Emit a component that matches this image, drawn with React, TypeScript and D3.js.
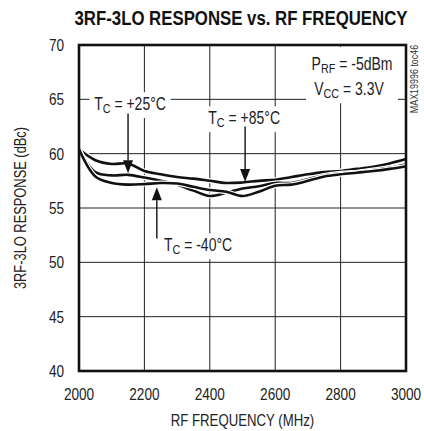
import React, { useEffect, useRef } from "react";
import * as d3 from "d3";

const freqs = [2000, 2050, 2100, 2150, 2200, 2250, 2300, 2350, 2400, 2450, 2500, 2550, 2600, 2650, 2700, 2750, 2800, 2850, 2900, 2950, 3000];
const tc85 = [60.4, 59.4, 59.05, 59.1, 58.4, 58.1, 57.85, 57.7, 57.5, 57.3, 57.35, 57.5, 57.6, 57.85, 58.1, 58.3, 58.4, 58.6, 58.8, 59.1, 59.5];
const tc25 = [60.4, 58.3, 58.0, 58.05, 57.8, 57.5, 57.15, 56.6, 56.1, 56.4, 56.8, 57.0, 57.3, 57.3, 57.65, 58.0, 58.2, 58.3, 58.5, 58.7, 59.0];
const tcm40 = [60.4, 57.9, 57.3, 57.15, 57.2, 57.3, 57.25, 56.95, 56.65, 56.5, 56.1, 56.5, 57.05, 57.15, 57.5, 57.9, 58.1, 58.25, 58.4, 58.6, 58.85];
const seriesList = [tc85, tc25, tcm40];

const xTicks = [2000, 2200, 2400, 2600, 2800, 3000];
const yTicks = [40, 45, 50, 55, 60, 65, 70];

const title = "3RF-3LO RESPONSE vs. RF FREQUENCY";
const xTitle = "RF FREQUENCY (MHz)";
const yTitle = "3RF-3LO RESPONSE (dBc)";
const sideNote = "MAX19996 toc46";

// annotation labels: text after "T_C = ", arrow frequency, arrow tip value, arrow tail value, label centre freq / value
const annoText = ["+25°C", "+85°C", "-40°C"];
const annoArrowFreq = [2150, 2508, 2238];
const annoTip = [58.2, 57.4, 56.9];
const annoTail = [63.7, 62.5, 52.2];
const annoLabelFreq = [2156, 2505, 2364];
const annoLabelVal = [64.6, 63.3, 51.6];

const FONT = "'Liberation Sans', Arial, sans-serif";
const SX = 0.8;

export default function App() {
  const ref = useRef<SVGSVGElement>(null);

  useEffect(() => {
    const svg = d3.select(ref.current);
    svg.selectAll("*").remove();
    const L = 79, R = 406, T = 45, B = 371;
    const x = d3.scaleLinear().domain([2000, 3000]).range([L, R]);
    const y = d3.scaleLinear().domain([40, 70]).range([B, T]);

    svg.append("rect").attr("width", 424).attr("height", 431).attr("fill", "#fff");

    // grid
    const g = svg.append("g");
    g.selectAll(".vx").data(xTicks.slice(1, -1)).enter().append("line")
      .attr("x1", (d) => x(d)).attr("x2", (d) => x(d)).attr("y1", T).attr("y2", B)
      .attr("stroke", "#222").attr("stroke-width", 1);
    g.selectAll(".hy").data(yTicks.slice(1, -1)).enter().append("line")
      .attr("x1", L).attr("x2", R).attr("y1", (d) => y(d)).attr("y2", (d) => y(d))
      .attr("stroke", "#222").attr("stroke-width", 1);

    // tick labels (condensed via horizontal scale)
    svg.selectAll(".xl").data(xTicks).enter().append("text")
      .attr("transform", (d) => `translate(${x(d)},${B + 29}) scale(${SX},1)`).attr("text-anchor", "middle")
      .attr("font-family", FONT).attr("font-size", 17).attr("fill", "#222").text((d) => d);
    svg.selectAll(".yl").data(yTicks).enter().append("text")
      .attr("transform", (d) => `translate(${L - 15},${y(d) + 6}) scale(${SX},1)`).attr("text-anchor", "end")
      .attr("font-family", FONT).attr("font-size", 17).attr("fill", "#222").text((d) => d);

    // titles
    svg.append("text").attr("transform", `translate(241,25) scale(0.8,1)`).attr("text-anchor", "middle")
      .attr("font-family", FONT).attr("font-weight", "bold").attr("font-size", 21).attr("fill", "#111").text(title);
    svg.append("text").attr("transform", `translate(${(L + R) / 2},426) scale(${SX},1)`).attr("text-anchor", "middle")
      .attr("font-family", FONT).attr("font-size", 16.5).attr("fill", "#222").text(xTitle);
    svg.append("text").attr("transform", `translate(26,${(T + B) / 2}) rotate(-90) scale(0.78,1)`).attr("text-anchor", "middle")
      .attr("font-family", FONT).attr("font-size", 16.5).attr("fill", "#222").text(yTitle);
    svg.append("text").attr("transform", `translate(418,79) rotate(-90) scale(0.85,1)`).attr("text-anchor", "middle")
      .attr("font-family", FONT).attr("font-size", 10.5).attr("fill", "#333").text(sideNote);

    // labels with subscript
    const addSubLabel = (cx: number, cy: number, main: string, sub: string, rest: string) => {
      const grp = svg.append("g").attr("transform", `translate(${cx},${cy}) scale(${SX},1)`);
      const bg = grp.append("rect").attr("fill", "#fff");
      const t = grp.append("text").attr("x", 0).attr("y", 6).attr("text-anchor", "middle")
        .attr("font-family", FONT).attr("font-size", 17.5).attr("fill", "#222");
      t.append("tspan").text(main);
      t.append("tspan").attr("dy", 3).attr("font-size", 13.5).text(sub);
      t.append("tspan").attr("dy", -3).text(rest);
      const bb = (t.node() as SVGTextElement).getBBox();
      bg.attr("x", bb.x - 6).attr("y", bb.y - 2).attr("width", bb.width + 12).attr("height", bb.height + 4);
      return grp;
    };

    // PRF / VCC box
    svg.append("rect").attr("fill", "#fff").attr("x", 306).attr("y", T + 2).attr("width", 92).attr("height", 54);
    addSubLabel(352, 64, "P", "RF", " = -5dBm");
    addSubLabel(349, 89, "V", "CC", " = 3.3V");

    annoText.forEach((txt, i) => {
      addSubLabel(x(annoLabelFreq[i]), y(annoLabelVal[i]), "T", "C", " = " + txt);
    });

    // curves
    const line = d3.line<number>().x((_, i) => x(freqs[i])).y((d) => y(d)).curve(d3.curveCatmullRom.alpha(0.5));
    const cg = svg.append("g");
    seriesList.forEach((s) => {
      cg.append("path").attr("d", line(s)).attr("fill", "none").attr("stroke", "#fff").attr("stroke-width", 5);
      cg.append("path").attr("d", line(s)).attr("fill", "none").attr("stroke", "#111").attr("stroke-width", 2.6);
    });

    // arrows
    annoText.forEach((_, i) => {
      const ax = x(annoArrowFreq[i]);
      const tipY = y(annoTip[i]);
      const tailY = y(annoTail[i]);
      const dir = tipY > tailY ? 1 : -1;
      const hl = 13, hw = 5;
      svg.append("line").attr("x1", ax).attr("x2", ax).attr("y1", tailY).attr("y2", tipY - dir * hl)
        .attr("stroke", "#111").attr("stroke-width", 1.4);
      svg.append("path")
        .attr("d", `M${ax},${tipY} L${ax - hw},${tipY - dir * hl} L${ax + hw},${tipY - dir * hl} Z`)
        .attr("fill", "#111");
    });

    // frame
    svg.append("rect").attr("x", L).attr("y", T).attr("width", R - L).attr("height", B - T)
      .attr("fill", "none").attr("stroke", "#111").attr("stroke-width", 2.6);
  }, []);

  return (
    <svg ref={ref} width={424} height={431} style={{ position: "absolute", left: 0, top: 0 }} />
  );
}
